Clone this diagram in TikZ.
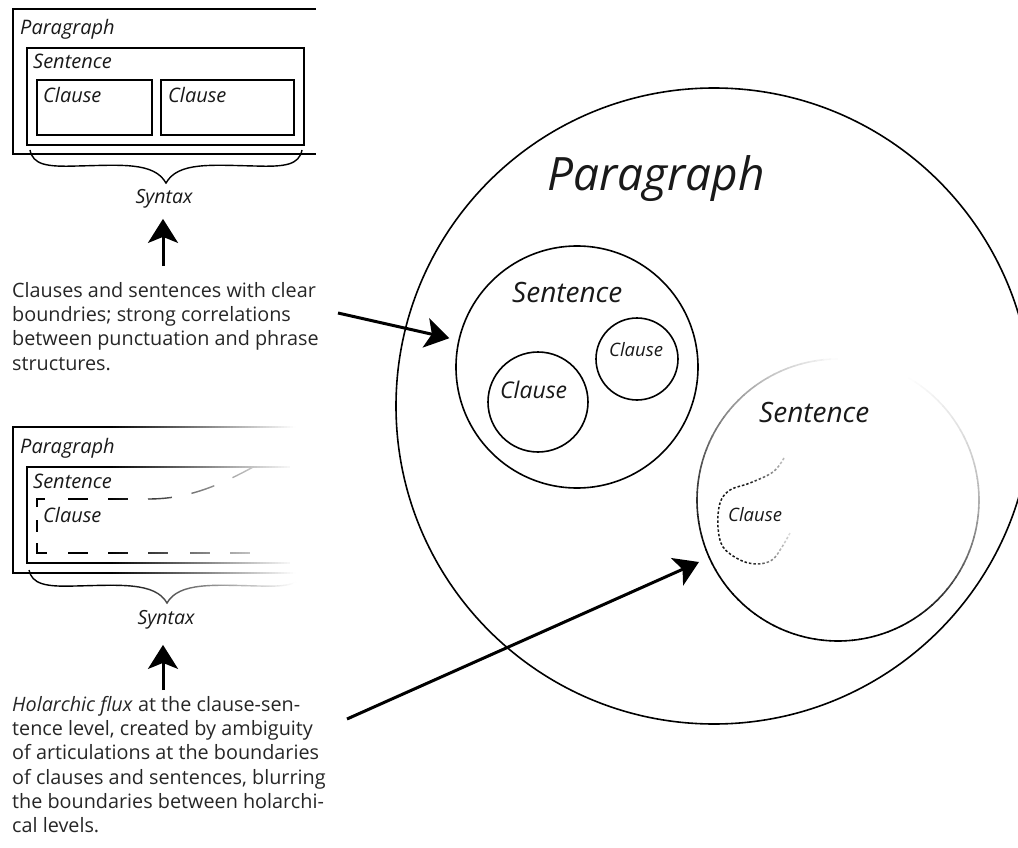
\documentclass[tikz,border=0pt]{standalone}
\usepackage{fontspec}
\setmainfont{Open Sans}
\usetikzlibrary{arrows.meta,calc}
\tikzset{
  boxline/.style={line width=1.4pt},
  ring/.style={circle, draw, line width=1.6pt, inner sep=0pt},
  fatarrow/.style={line width=3pt, -{Stealth[length=24pt,width=30pt,inset=6pt]}},
  lab/.style={font=\fontsize{#1}{#1}\selectfont\itshape, inner sep=0pt, anchor=base west, text=black!90},
  body/.style={font=\fontsize{19.8}{24.3}\selectfont, align=left, inner sep=0pt, anchor=north west, text=black!85},
}
\newcommand\lowerpaths{%
  \draw[boxline] (300,427) -- (13,427) -- (13,573) -- (300,573);
  \draw[boxline] (290,467) -- (27,467) -- (27,563) -- (290,563);
  \draw[boxline] (37,507) -- (37,499) -- (45,499);
  \draw[boxline] (37,520) -- (37,532);
  \draw[boxline] (37,543) -- (37,553) -- (47,553);
  \foreach \s in {68,108,148,190,230} {\draw[boxline] (\s,553) -- (\s+20,553);}
  \draw[boxline] (68,499) -- (88,499);
  \draw[boxline] (108,499) -- (128,499);
  \draw[boxline, dash pattern=on 24pt off 20pt] (148,499) .. controls (185,499) and (215,488) .. (255,466);
  \draw[line width=1.4pt] (29,570) .. controls (32,584) and (45,587) .. (75,586) .. controls (120,585) and (155,582) .. (167,603) .. controls (179,582) and (214,585) .. (259,586) .. controls (289,587) and (302,584) .. (305,570);
}
\newcommand\clausepath[1]{%
  \draw[#1, line width=1.5pt, dash pattern=on 2.5pt off 2pt] plot[smooth, tension=0.6] coordinates {(784,458) (773,472) (750,483) (730,490) (720,503) (718,527) (723,547) (740,560) (757,564) (772,560) (782,547) (790,533)};
}
\begin{document}
\begin{tikzpicture}[x=1pt,y=-1pt]
\useasboundingbox (0,0) rectangle (1018,848);
\clip (0,0) rectangle (1018,848);

% ---------- upper left schema ----------
\draw[boxline] (316,9) -- (13,9) -- (13,154) -- (316,154);
\draw[boxline] (27,48) rectangle (304,145);
\draw[boxline] (37,80) rectangle (152,135);
\draw[boxline] (161,80) rectangle (294,135);
\node[lab=20] (tp1) at (20,35) {Paragraph};
\node[lab=20] (ts1) at (33,69) {Sentence};
\node[lab=20] (tc1) at (43,103) {Clause};
\node[lab=20] (tc2) at (168,103) {Clause};
\draw[line width=1.4pt] (30,150) .. controls (33,165) and (47,167) .. (77,166) .. controls (122,165) and (154,162) .. (166,183) .. controls (178,162) and (210,165) .. (255,166) .. controls (285,167) and (299,165) .. (302,150);
\node[lab=19.5, anchor=base] (syn1) at (164,204) {Syntax};
\coordinate (u1) at (163,266);
\draw[fatarrow, shorten >=10pt] (u1) -- (u1 |- syn1.south);

\node[body] (t1) at (12,282) {Clauses and sentences with clear\\boundries; strong correlations\\between punctuation and phrase\\structures.};

% ---------- lower left schema (fading to the right) ----------
\begin{scope}
  \clip (0,400) rectangle (110,612);
  \lowerpaths
\end{scope}
\foreach \x in {110,113,...,305} {
  \pgfmathsetmacro\d{max(0,100*(1-(\x+1.5-110)/185))}
  \begin{scope}[black!\d]
    \clip (\x,400) rectangle (\x+3,612);
    \lowerpaths
  \end{scope}
}
\node[lab=20] (lp) at (20,453) {Paragraph};
\node[lab=20] (ls) at (33,488) {Sentence};
\node[lab=20] (lc) at (43,522) {Clause};
\node[lab=19.5, anchor=base] (syn2) at (166,624) {Syntax};
\coordinate (u2) at (163,690);
\draw[fatarrow, shorten >=16pt] (u2) -- (u2 |- syn2.south);

\node[body] (t2) at (12,696) {\textit{Holarchic flux} at the clause-sen-\\tence level, created by ambiguity\\of articulations at the boundaries\\of clauses and sentences, blurring\\the boundaries between holarchi-\\cal levels.};

% ---------- right: circles ----------
\node[ring, minimum size=636pt] (P) at (714,406) {};
\node[lab=46] (Plab) at (547,190) {Paragraph};

\node[ring, minimum size=242pt] (s1) at (577,367) {};
\node[lab=28] (s1lab) at (512,302) {Sentence};
\node[ring, minimum size=100pt] (c1) at (538,402) {};
\node[lab=23] (c1lab) at (500,398) {Clause};
\node[ring, minimum size=82pt] (c2) at (637,359) {};
\node[lab=18.5] (c2lab) at (609,356) {Clause};

\node[circle, minimum size=282pt, inner sep=0pt] (s2) at (838,500) {};
\foreach \a in {0,3,...,357} {
  \pgfmathsetmacro\m{mod(720-\a-1.5,360)}
  \pgfmathsetmacro\d{\m<30 ? 30-0.6*\m : (\m<60 ? 12-0.4*(\m-30) : (\m<90 ? 0 : (\m<120 ? 0.8333*(\m-90) : (\m<200 ? 25+0.9375*(\m-120) : (\m<300 ? 100 : (\m<330 ? 100-1.1667*(\m-300) : 65-1.1667*(\m-330)))))))}
  \draw[line width=1.6pt, black!\d] ($(s2.center)+(\a:141)$) arc[start angle=\a, end angle=\a+3.3, radius=141];
}
\node[lab=28] (s2lab) at (759,422) {Sentence};
\foreach \x in {700,704,...,796} {
  \pgfmathsetmacro\d{\x<746 ? 90 : max(10,90-1.818*(\x-746))}
  \begin{scope}
    \clip (\x,440) rectangle (\x+4,580);
    \clausepath{black!\d}
  \end{scope}
}
\node[lab=18.5] (c3lab) at (728,521) {Clause};

% ---------- connectors ----------
\coordinate (b1) at (338,313);
\draw[fatarrow, shorten >=9pt] (b1) -- (s1);
\coordinate (b2) at (347,719);
\draw[fatarrow, shorten >=11pt] (b2) -- (s2);
\end{tikzpicture}
\end{document}
